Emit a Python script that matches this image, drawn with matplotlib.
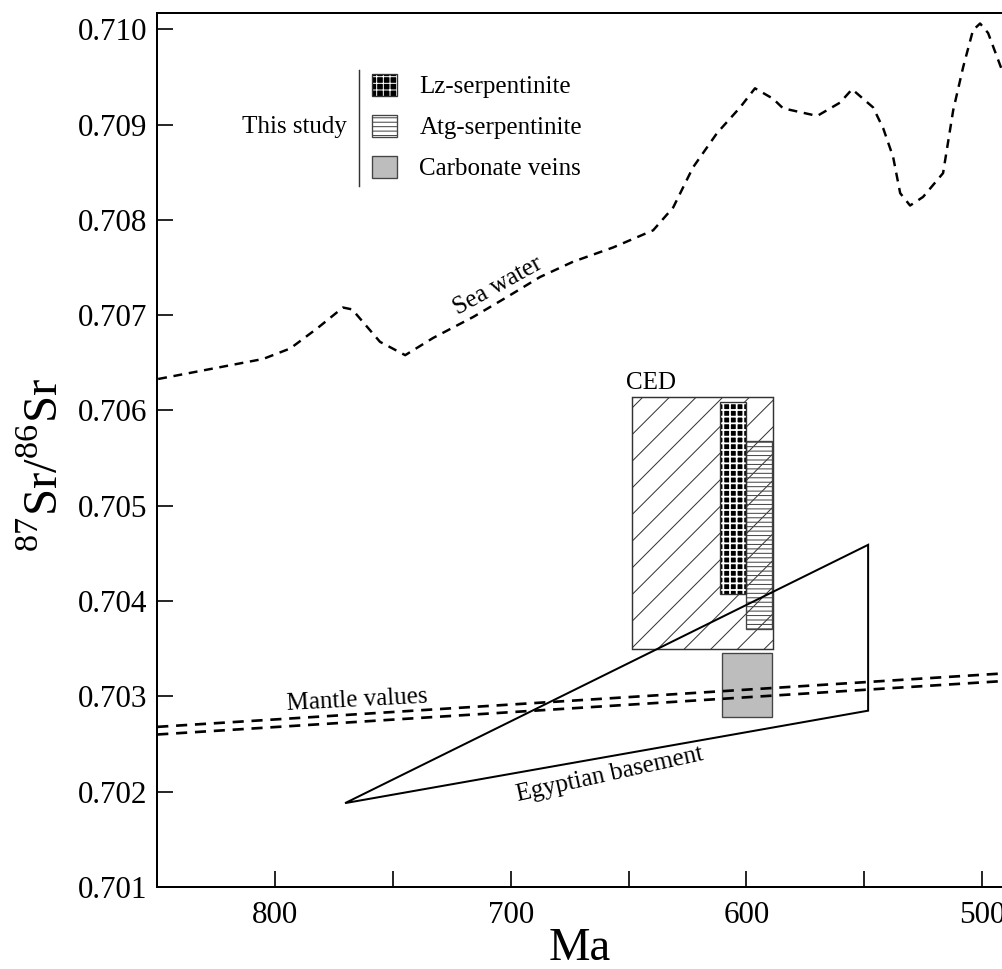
import matplotlib
matplotlib.use('Agg')
import matplotlib.pyplot as plt
from matplotlib.patches import Rectangle, Patch, Polygon
from matplotlib.legend_handler import HandlerTuple
from matplotlib.ticker import MultipleLocator, FormatStrFormatter

# sea water curve (Ma, 87Sr/86Sr)
sea_ma = [849.6, 805.1, 793.6, 782.2, 771.2, 767.3, 755.5, 744.8, 733.0,
          716.0, 701.6, 687.6, 673.6, 656.6, 639.6, 631.1, 622.7, 612.5,
          602.7, 596.4, 588.7, 584.5, 570.0, 560.3, 555.2, 546.3, 542.0,
          537.8, 534.8, 530.6, 525.1, 516.6, 512.3, 508.1, 503.9, 500.9,
          497.5, 491.6]
sea_sr = [0.70633, 0.70654, 0.70665, 0.70686, 0.70708, 0.70706, 0.70672,
          0.70658, 0.70676, 0.70698, 0.70719, 0.70740, 0.70756, 0.70771,
          0.70789, 0.70813, 0.70855, 0.70891, 0.70918, 0.70938, 0.70927,
          0.70917, 0.70909, 0.70923, 0.70937, 0.70918, 0.70896, 0.70866,
          0.70828, 0.70815, 0.70824, 0.70849, 0.70915, 0.70960, 0.70999,
          0.71006, 0.70996, 0.70957]

# mantle values band
mantle_ma = [850.0, 491.6]
mantle_hi = [0.70268, 0.70324]
mantle_lo = [0.70260, 0.70316]

# Egyptian basement field
basement_ma = [770.3, 548.4, 548.4]
basement_sr = [0.70188, 0.70459, 0.70285]

# boxes: (Ma old, Ma young, Sr low, Sr high)
ced_box = (648.5, 588.7, 0.70350, 0.70614)
lz_box = (611.2, 600.2, 0.70407, 0.70609)
atg_box = (600.2, 589.1, 0.70371, 0.70568)
carb_box = (610.3, 589.1, 0.70278, 0.70345)

legend_labels = ['Lz-serpentinite', 'Atg-serpentinite', 'Carbonate veins']

plt.rcParams['font.family'] = 'Liberation Serif'
plt.rcParams['mathtext.fontset'] = 'custom'
plt.rcParams['mathtext.rm'] = 'Liberation Serif'
plt.rcParams['lines.scale_dashes'] = False
plt.rcParams['hatch.linewidth'] = 0.9


def box(b, **kw):
    return Rectangle((b[1], b[2]), b[0] - b[1], b[3] - b[2], **kw)


def hatch_lw(p, w):
    if hasattr(p, 'set_hatch_linewidth'):
        p.set_hatch_linewidth(w)
    return p


fig = plt.figure(figsize=(1002 / 80, 969 / 80), dpi=80)
ax = fig.add_axes([157 / 1002, 82 / 969, 845 / 1002, 874 / 969])

# boxes
ax.add_patch(box(ced_box, fill=False, edgecolor='#333333', hatch='/', lw=1.3, zorder=1))
ax.add_patch(hatch_lw(box(lz_box, facecolor='black', edgecolor='white', hatch='++', lw=0, zorder=2), 1.6))
ax.add_patch(box(lz_box, fill=False, edgecolor='#333333', lw=1.2, zorder=2.1))
ax.add_patch(box(atg_box, fill=False, edgecolor='#444444', hatch='---', lw=1.2, zorder=2))
ax.add_patch(box(carb_box, facecolor='#bdbdbd', edgecolor='#444444', lw=1.2, zorder=2))

# lines
ax.plot(sea_ma, sea_sr, color='black', lw=2.2, dashes=(8, 6), zorder=3)
ax.plot(mantle_ma, mantle_hi, color='black', lw=2.4, dashes=(10, 7), zorder=3)
ax.plot(mantle_ma, mantle_lo, color='black', lw=2.4, dashes=(10, 7), zorder=3)
ax.add_patch(Polygon(list(zip(basement_ma, basement_sr)), closed=True, fill=False,
                     edgecolor='black', lw=1.8, zorder=3))

# annotations
fs = 22.5
ax.text(705.4, 0.70731, 'Sea water', rotation=29, ha='center', va='center', fontsize=fs)
ax.text(765.2, 0.70296, 'Mantle values', rotation=3, ha='center', va='center', fontsize=fs)
ax.text(657.9, 0.70218, 'Egyptian basement', rotation=12.5, ha='center', va='center', fontsize=fs)
ax.text(640.5, 0.70629, 'CED', ha='center', va='center', fontsize=fs)
ax.text(769.5, 0.70897, 'This study', ha='right', va='center', fontsize=fs)
ax.plot([764.4, 764.4], [0.70957, 0.70835], color='#333333', lw=1.3)

# legend
lz_h = (hatch_lw(Patch(facecolor='black', edgecolor='white', hatch='++', lw=0), 1.6),
        Patch(fill=False, edgecolor='#333333', lw=1.2))
atg_h = Patch(facecolor='white', edgecolor='#444444', hatch='---', lw=1.2)
carb_h = Patch(facecolor='#bdbdbd', edgecolor='#444444', lw=1.2)
ax.legend([lz_h, atg_h, carb_h], legend_labels,
          handler_map={tuple: HandlerTuple(ndivide=1, pad=0)},
          loc='center left', bbox_to_anchor=(0.2544, 0.8696), frameon=False,
          fontsize=fs, handlelength=1.0, handleheight=1.0, handletextpad=0.9,
          labelspacing=0.65, borderpad=0, borderaxespad=0)

# axes
ax.set_xlim(850.1, 491.6)
ax.set_ylim(0.701, 0.71017)
ax.xaxis.set_major_locator(MultipleLocator(100))
ax.xaxis.set_minor_locator(MultipleLocator(50))
ax.yaxis.set_major_locator(MultipleLocator(0.001))
ax.yaxis.set_major_formatter(FormatStrFormatter('%.3f'))
ax.tick_params(axis='both', which='both', direction='in', length=14.4, width=1.5,
               top=False, right=False)
ax.tick_params(axis='x', pad=13, labelsize=28)
ax.tick_params(axis='y', pad=9, labelsize=28)
for s in ['left', 'bottom', 'top']:
    ax.spines[s].set_linewidth(1.8)
ax.spines['right'].set_visible(False)

ax.set_xlabel('Ma', fontsize=42)
ax.xaxis.set_label_coords(0.5, -0.046)
fig.text(45 / 1002, 1 - 465 / 969, r'$^{87}\mathrm{Sr}/^{86}\mathrm{Sr}$',
         rotation=90, ha='center', va='center', fontsize=44)

plt.savefig('out.png', dpi=80)
